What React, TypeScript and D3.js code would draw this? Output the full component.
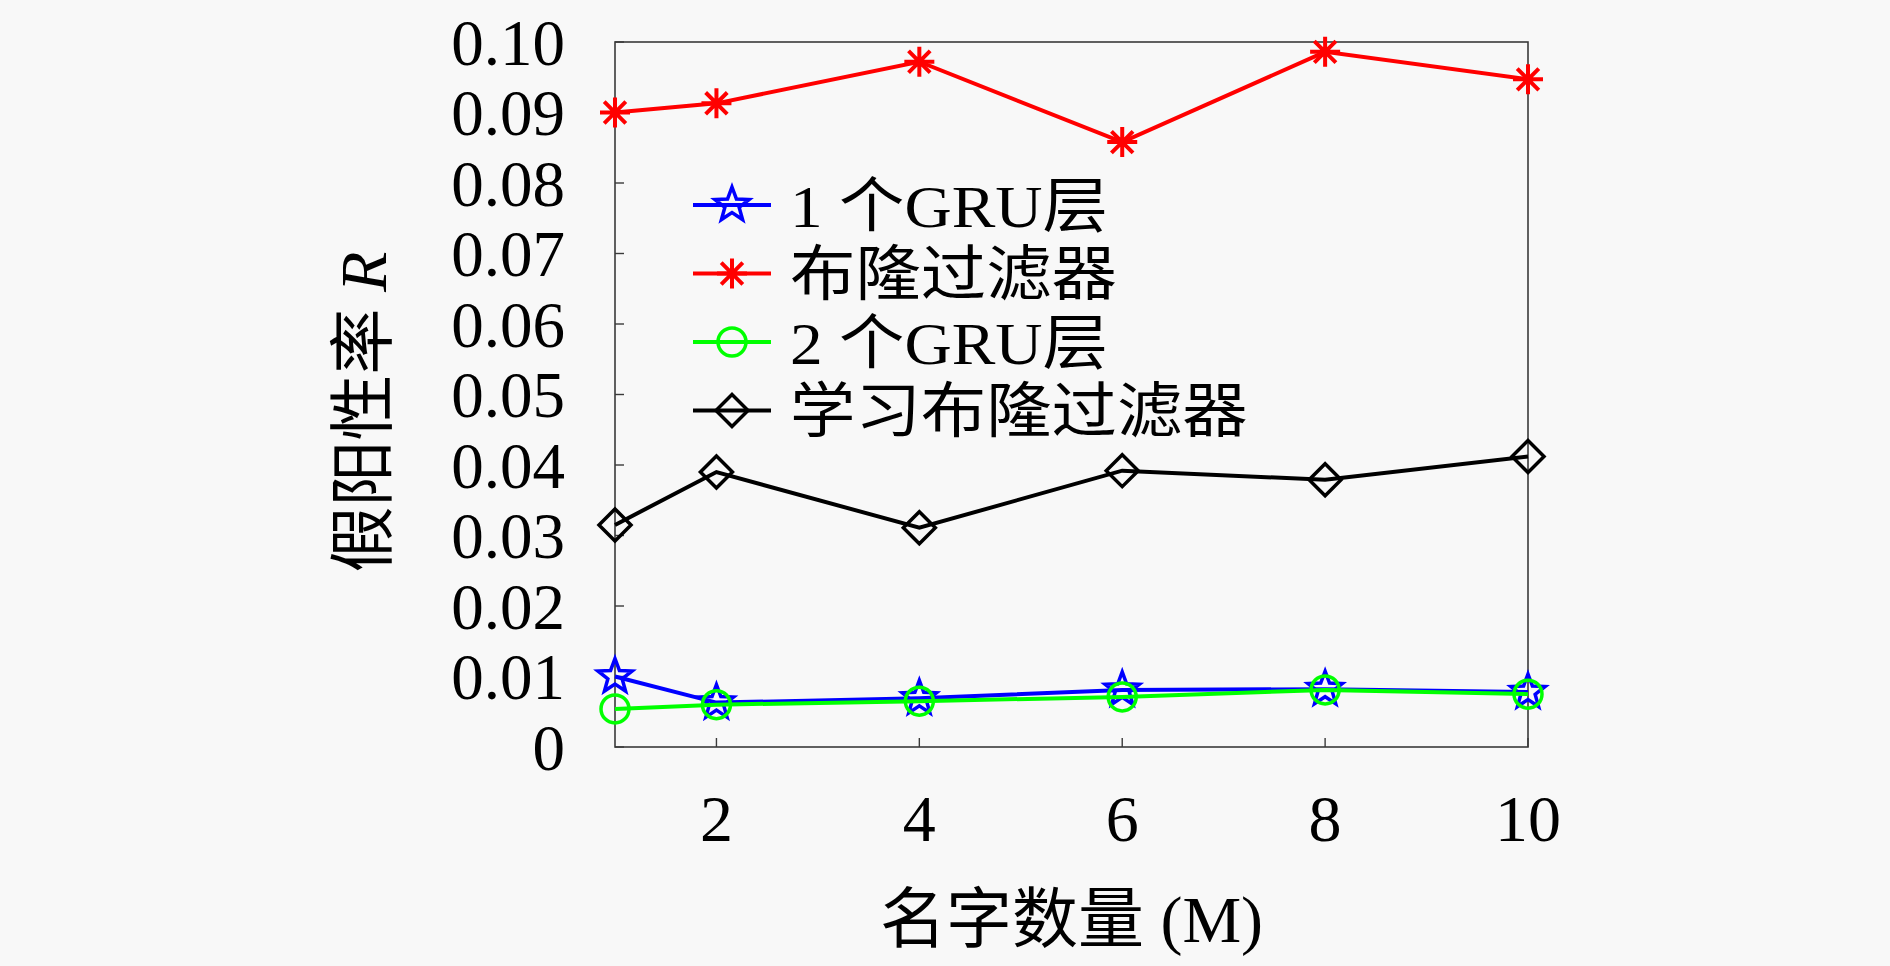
import * as d3 from 'd3'

// names (millions) on the x axis
const names = [1, 2, 4, 6, 8, 10]

const gru1    = [0.0100, 0.0063, 0.0069, 0.0081, 0.0082, 0.0078]
const bloom   = [0.0900, 0.0913, 0.0972, 0.0858, 0.0986, 0.0947]
const gru2    = [0.0054, 0.0060, 0.0065, 0.0071, 0.0081, 0.0075]
const learned = [0.0315, 0.0390, 0.0311, 0.0392, 0.0379, 0.0412]

const seriesNames = ['1 个GRU层', '布隆过滤器', '2 个GRU层', '学习布隆过滤器']
const seriesColors = ['#0000ff', '#ff0000', '#00ff00', '#000000']
const seriesMarkers = ['star', 'asterisk', 'circle', 'diamond']
const seriesValues = [gru1, bloom, gru2, learned]

const yTicks = [0, 0.01, 0.02, 0.03, 0.04, 0.05, 0.06, 0.07, 0.08, 0.09, 0.10]
const xTicks = [2, 4, 6, 8, 10]

const W = 1890, H = 966
const M = { left: 615, right: 1528, top: 42, bottom: 747 }
const FONT = '"Liberation Serif", "Noto Sans CJK SC", serif'

function starPath(r: number, ri: number) {
  const pts: string[] = []
  for (let i = 0; i < 10; i++) {
    const a = -Math.PI / 2 + (i * Math.PI) / 5
    const rr = i % 2 === 0 ? r : ri
    pts.push(`${(rr * Math.cos(a)).toFixed(2)},${(rr * Math.sin(a)).toFixed(2)}`)
  }
  return `M${pts.join('L')}Z`
}

function Marker({ kind, x, y, color }: { kind: string; x: number; y: number; color: string }) {
  const sw = 3.5
  if (kind === 'star')
    return <path d={starPath(18, 7.5)} transform={`translate(${x},${y})`} fill="none" stroke={color} strokeWidth={sw} />
  if (kind === 'circle')
    return <circle cx={x} cy={y} r={14} fill="none" stroke={color} strokeWidth={sw} />
  if (kind === 'diamond')
    return <path d="M0,-16L16,0L0,16L-16,0Z" transform={`translate(${x},${y})`} fill="none" stroke={color} strokeWidth={sw} />
  // asterisk: + and x overlaid
  const r = 15, d = r * 0.72
  return (
    <path
      d={`M0,${-r}V${r}M${-r},0H${r}M${-d},${-d}L${d},${d}M${-d},${d}L${d},${-d}`}
      transform={`translate(${x},${y})`}
      stroke={color} strokeWidth={4} fill="none"
    />
  )
}

export default function App() {
  const x = d3.scaleLinear([1, 10], [M.left, M.right])
  const y = d3.scaleLinear([0, 0.1], [M.bottom, M.top])
  const line = d3.line<number>().x((_, i) => x(names[i])).y((v) => y(v))

  const legendY = seriesNames.map((_, i) => 205 + i * 68.5)

  return (
    <svg width={W} height={H} viewBox={`0 0 ${W} ${H}`}
      style={{ position: 'absolute', left: 0, top: 0, fontFamily: FONT }}>
      <rect width={W} height={H} fill="#f8f8f8" />

      {/* axis box */}
      <rect x={M.left} y={M.top} width={M.right - M.left} height={M.bottom - M.top}
        fill="none" stroke="#3a3a3a" strokeWidth={1.6} />

      {yTicks.map((t) => (
        <g key={t}>
          <line x1={M.left} x2={M.left + 9} y1={y(t)} y2={y(t)} stroke="#3a3a3a" strokeWidth={1.4} />
          <text x={565} y={y(t)} dy="0.35em" textAnchor="end" fontSize={65} fill="#000">
            {t === 0 ? '0' : d3.format('.2f')(t)}
          </text>
        </g>
      ))}
      {xTicks.map((t) => (
        <g key={t}>
          <line x1={x(t)} x2={x(t)} y1={M.bottom} y2={M.bottom - 9} stroke="#3a3a3a" strokeWidth={1.4} />
          <text x={x(t)} y={841} textAnchor="middle" fontSize={66} fill="#000">{t}</text>
        </g>
      ))}

      {/* series */}
      {seriesValues.map((vals, s) => (
        <g key={s}>
          <path d={line(vals) ?? ''} fill="none" stroke={seriesColors[s]} strokeWidth={4} />
          {vals.map((v, i) => (
            <Marker key={i} kind={seriesMarkers[s]} x={x(names[i])} y={y(v)} color={seriesColors[s]} />
          ))}
        </g>
      ))}

      {/* legend */}
      {seriesNames.map((name, s) => (
        <g key={name}>
          <line x1={693} x2={771} y1={legendY[s]} y2={legendY[s]} stroke={seriesColors[s]} strokeWidth={4} />
          <Marker kind={seriesMarkers[s]} x={732} y={legendY[s]} color={seriesColors[s]} />
          <text transform={`translate(790,${legendY[s]}) scale(1.09,1)`} dy="0.36em" fontSize={60} fill="#000">{name}</text>
        </g>
      ))}

      {/* axis labels */}
      <text x={(M.left + M.right) / 2} y={942} textAnchor="middle" fontSize={66} fill="#000">名字数量 (M)</text>
      <text transform={`translate(386,412) rotate(-90)`} textAnchor="middle" fontSize={66} fill="#000">
        假阳性率 <tspan fontStyle="italic">R</tspan>
      </text>
    </svg>
  )
}
